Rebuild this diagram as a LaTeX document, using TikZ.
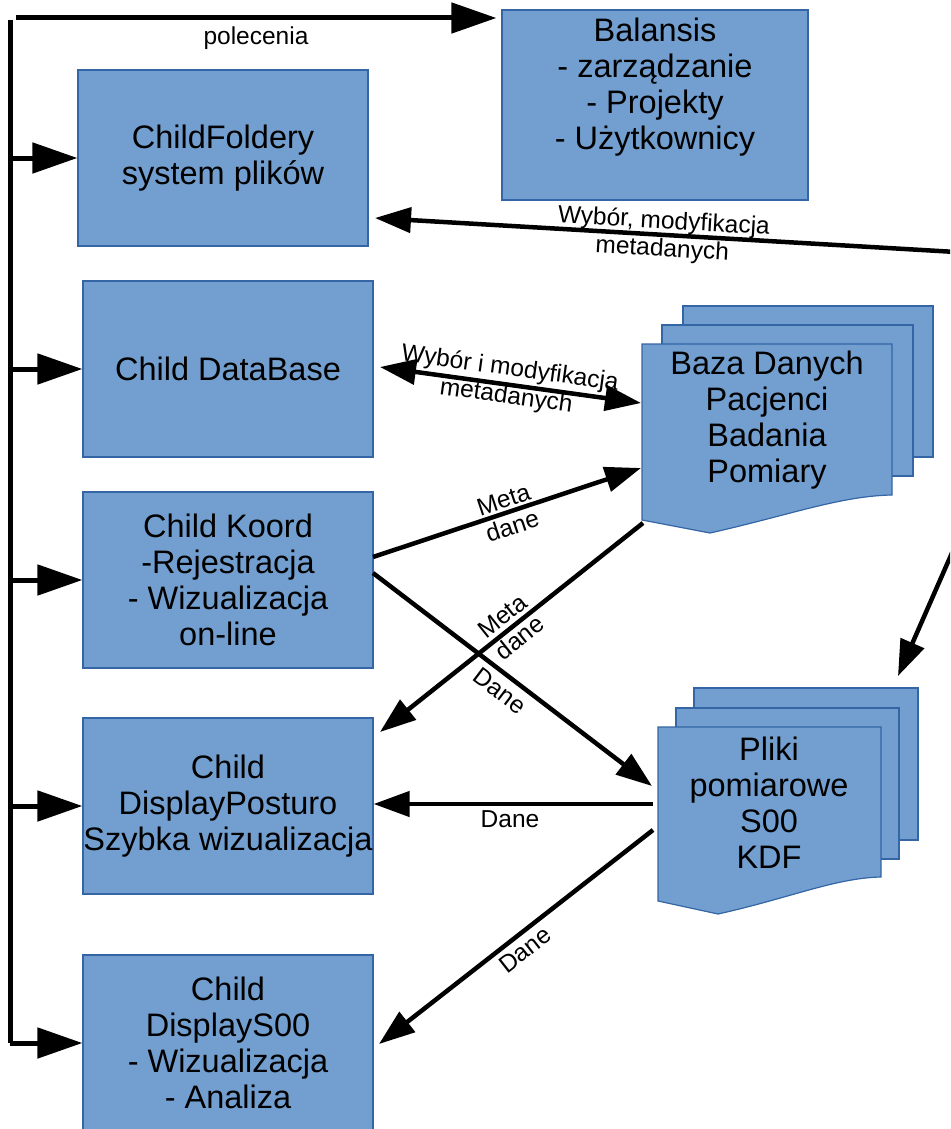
\documentclass[tikz,border=0pt]{standalone}
\usepackage{fontspec}
\setmainfont{Liberation Sans}
\usetikzlibrary{arrows.meta}
\definecolor{boxfill}{HTML}{729FCF}
\definecolor{boxline}{HTML}{3465A4}
\tikzset{
  box/.style={draw=boxline, fill=boxfill, line width=1.2pt, minimum width=290pt, minimum height=176pt, inner sep=0pt, align=center, font=\fontsize{32.5}{36}\selectfont},
  page/.style={draw=boxline, fill=boxfill, line width=1.2pt},
  doctext/.style={align=center, font=\fontsize{32.5}{36}\selectfont, inner sep=0pt},
  lbl/.style={align=center, font=\fontsize{24.5}{28}\selectfont, inner sep=0pt},
  big/.style={line width=5pt, -{Triangle[length=45pt,width=30pt]}},
  flow/.style={line width=4.5pt, -{Triangle[length=36pt,width=25pt]}},
  flow2/.style={line width=4.5pt, {Triangle[length=36pt,width=25pt]}-{Triangle[length=36pt,width=25pt]}},
}
\begin{document}
\begin{tikzpicture}[x=1pt,y=-1pt]
\useasboundingbox (0,0) rectangle (950,1129);
\clip (0,0) rectangle (950,1129);

% boxes
\node[box, minimum width=306pt, minimum height=190pt] (bal) at (655,105) {};
\node[doctext] (baltext) at (655,87.5) {Balansis\\- zarządzanie\\- Projekty\\- Użytkownicy};
\node[box] (fold) at (223,158) {ChildFoldery\\system plików};
\node[box] (db) at (228,369) {Child DataBase};
\node[box] (koord) at (228,580) {Child Koord\\-Rejestracja\\- Wizualizacja\\on-line};
\node[box] (post) at (228,806) {Child\\DisplayPosturo\\Szybka wizualizacja};
\node[box] (s00) at (228,1043) {Child\\DisplayS00\\- Wizualizacja\\- Analiza};

% Baza Danych multi-document
\draw[page] (683,306) rectangle (933,457);
\draw[page] (662,325) rectangle (913,476);
\draw[page] (642,344) -- (892,344) -- (892,495)
  .. controls (840,496) and (790,515) .. (710,533)
  -- (642,520) -- cycle;
\node[doctext] (baza) at (767,420) {Baza Danych\\Pacjenci\\Badania\\Pomiary};

% Pliki multi-document
\draw[page] (694,688) rectangle (918,840);
\draw[page] (676,708) rectangle (899,859);
\draw[page] (658,727) -- (881,727) -- (881,877)
  .. controls (835,878) and (790,898) .. (718,914)
  -- (658,901) -- cycle;
\node[doctext] (pliki) at (769,803) {Pliki\\pomiarowe\\S00\\KDF};

% bus on the left
\coordinate (busTop) at (10,20);
\coordinate (busBot) at (10,1043);
\draw[line width=5pt] (busTop) -- (busBot);
\coordinate (polStart) at (16,18);
\draw[big, shorten >=5pt] (polStart) -- (bal.west |- polStart);
\node[lbl] (pol) at (256,38) {polecenia};
\draw[big] (busTop |- fold.west) -- (fold.west);
\draw[big] (busTop |- db.west) -- (db.west);
\draw[big] (busTop |- koord.west) -- (koord.west);
\draw[big] (busTop |- post.west) -- (post.west);
\draw[big] (busBot) -- (s00.west);

% Wybor, modyfikacja (comes in from the right edge)
\coordinate (wyA) at (956,252);
\coordinate (wyB) at (375,218);
\draw[flow] (wyA) -- (wyB);
\node[lbl, rotate=-3.4] (wyLbl) at (663,236) {Wybór, modyfikacja\\metadanych};
\coordinate (wyC) at (955,546);
\coordinate (wyD) at (898,676);
\draw[flow] (wyC) -- (wyD);

% DataBase <-> Baza
\coordinate (dbE) at (380,367);
\coordinate (bazaW1) at (641,403);
\draw[flow2] (dbE) -- (bazaW1);
\node[lbl, rotate=-7.9] (dbLbl) at (508,383) {Wybór i modyfikacja\\metadanych};

% Koord -> Baza
\coordinate (koE1) at (373,557);
\coordinate (bazaW2) at (641,468);
\draw[flow] (koE1) -- (bazaW2);
\node[lbl, rotate=18.4] (md1) at (508,513) {Meta\\dane};

% Baza -> Posturo
\coordinate (bazaW3) at (643,523);
\coordinate (postNE) at (380,732);
\draw[flow] (bazaW3) -- (postNE);
\node[lbl, rotate=38.5] (md2) at (511,627) {Meta\\dane};

% Koord -> Pliki
\coordinate (koE2) at (373,573);
\coordinate (plikiW1) at (652,786);
\draw[flow] (koE2) -- (plikiW1);
\node[lbl, rotate=-37.2] (dn1) at (500,691) {Dane};

% Pliki -> Posturo
\coordinate (plikiW2) at (653,804);
\draw[flow] (plikiW2) -- (plikiW2 -| post.east);
\node[lbl] (dn2) at (510,819) {Dane};

% Pliki -> S00
\coordinate (plikiW3) at (653,830);
\coordinate (s00NE) at (379,1044);
\draw[flow] (plikiW3) -- (s00NE);
\node[lbl, rotate=38] (dn3) at (525,950) {Dane};
\end{tikzpicture}
\end{document}
